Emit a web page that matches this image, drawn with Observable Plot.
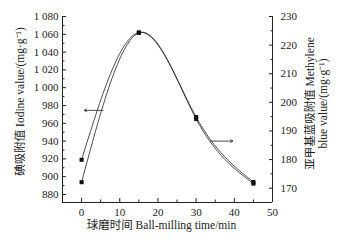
<!DOCTYPE html>
<html><head><meta charset="utf-8">
<script src="https://cdn.jsdelivr.net/npm/d3@7"></script>
<script src="https://cdn.jsdelivr.net/npm/@observablehq/plot@0.6"></script>
<style>body{margin:0;background:#fff}</style>
</head><body><div id="chart"></div>
<script>
const times = [0, 15, 30, 45];
const iodine = [919, 1062, 967, 894];
const methylene = [172.1, 224.3, 194.2, 171.6];
const xDomain = [-5, 50];
const leftDomain = [871, 1080];
const rightDomain = [165, 230];
const xTicks = [0, 10, 20, 30, 40, 50];
const xMinor = [5, 15, 25, 35, 45];
const leftTicks = [880, 900, 920, 940, 960, 980, 1000, 1020, 1040, 1060, 1080];
const leftMinor = [890, 910, 930, 950, 970, 990, 1010, 1030, 1050, 1070];
const rightTicks = [170, 180, 190, 200, 210, 220, 230];
const rightMinor = [175, 185, 195, 205, 215, 225];
const arrows = [
  {x1: 5.6, y1: 974.5, x2: 0.7, y2: 974.5},
  {x1: 33.8, y1: 940, x2: 39.6, y2: 940}
];
const toL = m => leftDomain[0] + (m - rightDomain[0]) * (leftDomain[1] - leftDomain[0]) / (rightDomain[1] - rightDomain[0]);
const fromL = v => rightDomain[0] + (v - leftDomain[0]) * (rightDomain[1] - rightDomain[0]) / (leftDomain[1] - leftDomain[0]);
const iodData = times.map((t, i) => ({t, v: iodine[i]}));
const metData = times.map((t, i) => ({t, v: toL(methylene[i])}));
const fmt = d => d >= 1000 ? "1 " + String(d).slice(1) : String(d);
const font = "'Liberation Serif','Noto Sans CJK SC',serif";

const plot = Plot.plot({
  width: 351, height: 246,
  marginLeft: 62, marginRight: 79, marginTop: 16, marginBottom: 44,
  style: {fontFamily: font, fontSize: "11px", color: "#222", background: "#fff"},
  x: {domain: xDomain},
  y: {domain: leftDomain},
  marks: [
    Plot.ruleX([xDomain[0], xDomain[1]], {stroke: "#222", strokeWidth: 1}),
    Plot.ruleY([leftDomain[0]], {stroke: "#222", strokeWidth: 1}),
    Plot.axisX({ticks: xTicks, tickSize: -4, tickPadding: 10, label: null, tickFormat: d => d, stroke: "#222"}),
    Plot.axisX({ticks: xMinor, tickSize: -2.5, text: null, label: null, stroke: "#222"}),
    Plot.axisY({ticks: leftTicks, tickSize: -4, tickPadding: 8, label: null, tickFormat: fmt, stroke: "#222"}),
    Plot.axisY({ticks: leftMinor, tickSize: -2.5, text: null, label: null, stroke: "#222"}),
    Plot.axisY({ticks: rightTicks.map(toL), anchor: "right", tickSize: -4, tickPadding: 12, label: null, tickFormat: d => Math.round(fromL(d)), stroke: "#222"}),
    Plot.axisY({ticks: rightMinor.map(toL), anchor: "right", tickSize: -2.5, text: null, label: null, stroke: "#222"}),
    Plot.line(iodData, {x: "t", y: "v", curve: "natural", stroke: "#222", strokeWidth: 0.8}),
    Plot.line(metData, {x: "t", y: "v", curve: "natural", stroke: "#222", strokeWidth: 0.8}),
    Plot.dot(iodData, {x: "t", y: "v", symbol: "square", r: 2.3, fill: "#111"}),
    Plot.dot(metData, {x: "t", y: "v", symbol: "square", r: 2.3, fill: "#111"}),
    Plot.arrow(arrows, {x1: "x1", y1: "y1", x2: "x2", y2: "y2", stroke: "#222", strokeWidth: 0.8, headLength: 5}),
    Plot.text(["碘吸附值 Iodine value/(mg·g⁻¹)"], {frameAnchor: "left", textAnchor: "middle", dx: -42, dy: -8, rotate: -90, fontSize: 11.5, fill: "#222"}),
    Plot.text(["亚甲基蓝吸附值 Methylene\nblue value/(mg·g⁻¹)"], {frameAnchor: "right", textAnchor: "middle", dx: 44, dy: -6, rotate: -90, fontSize: 11.5, lineHeight: 1.15, fill: "#222"}),
    Plot.text(["球磨时间 Ball-milling time/min"], {frameAnchor: "bottom", textAnchor: "middle", dy: 26, dx: -6, fontSize: 11.5, fill: "#222"})
  ]
});
document.getElementById("chart").appendChild(plot);
</script>
</body></html>
